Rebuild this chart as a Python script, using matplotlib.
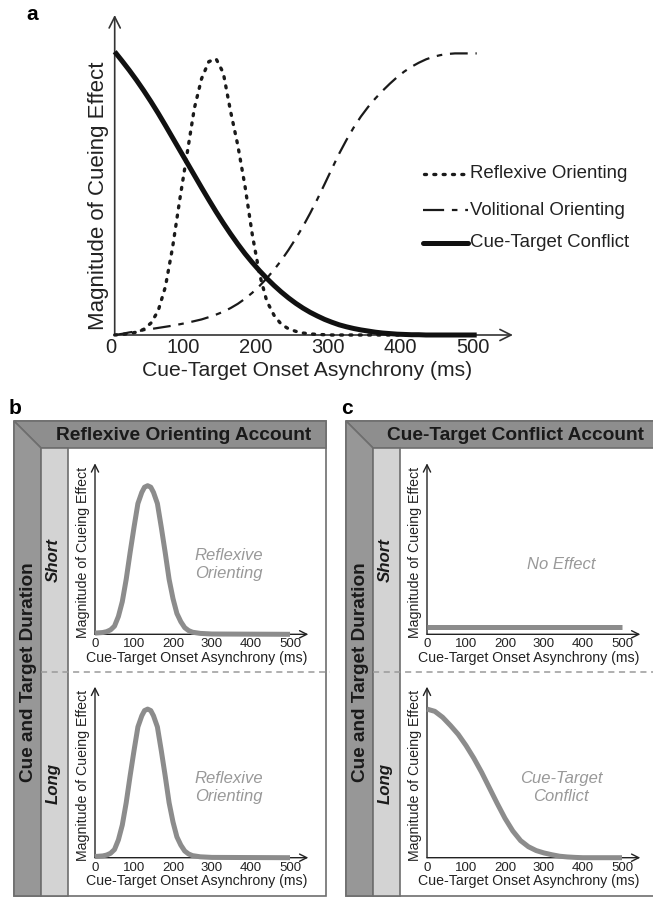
import matplotlib
matplotlib.use('Agg')
import matplotlib.pyplot as plt
from matplotlib.patches import Polygon, Rectangle
from matplotlib.transforms import ScaledTranslation

plt.rcParams['font.family'] = ['Liberation Sans', 'DejaVu Sans']

# ---- data ----
soa_ticks = [0, 100, 200, 300, 400, 500]

# panel a, sampled every 10 ms
t_a = [0, 10, 20, 30, 40, 50, 60, 70, 80, 90, 100, 110, 120, 130, 140, 150, 160, 170, 180, 190,
       200, 210, 220, 230, 240, 250, 260, 270, 280, 290, 300, 310, 320, 330, 340, 350, 360, 370,
       380, 390, 400, 410, 420, 430, 440, 450, 460, 470, 480, 490, 500]
reflexive_a = [0.0, 0.002, 0.005, 0.01, 0.02, 0.042, 0.085, 0.17, 0.31, 0.48, 0.64, 0.80, 0.905, 0.965,
               0.975, 0.925, 0.79, 0.67, 0.525, 0.355, 0.215, 0.12, 0.07, 0.038, 0.022, 0.013, 0.007,
               0.004, 0.002, 0.001, 0.0, 0.0, 0.0, 0.0, 0.0, 0.0, 0.0, 0.0, 0.0, 0.0, 0.0, 0.0, 0.0,
               0.0, 0.0, 0.0, 0.0, 0.0, 0.0, 0.0, 0.0]
volitional_a = [0.0, 0.004, 0.009, 0.013, 0.017, 0.021, 0.025, 0.029, 0.033, 0.038, 0.043, 0.049, 0.055,
                0.063, 0.072, 0.082, 0.095, 0.11, 0.128, 0.149, 0.173, 0.2, 0.23, 0.263, 0.3, 0.34,
                0.383, 0.43, 0.48, 0.533, 0.587, 0.64, 0.688, 0.732, 0.771, 0.805, 0.835, 0.862, 0.887,
                0.91, 0.93, 0.947, 0.961, 0.973, 0.982, 0.988, 0.992, 0.994, 0.994, 0.994, 0.994]
conflict_a = [1.0, 0.968, 0.935, 0.9, 0.863, 0.824, 0.783, 0.74, 0.696, 0.652, 0.608, 0.564, 0.52,
              0.477, 0.435, 0.395, 0.357, 0.321, 0.287, 0.256, 0.227, 0.2, 0.175, 0.152, 0.131, 0.112,
              0.095, 0.08, 0.067, 0.055, 0.045, 0.036, 0.029, 0.023, 0.018, 0.014, 0.01, 0.007, 0.005,
              0.003, 0.002, 0.001, 0.001, 0.0, 0.0, 0.0, 0.0, 0.0, 0.0, 0.0, 0.0]

# panels b / c
t_b = [0, 20, 30, 40, 50, 60, 70, 80, 90, 100, 110, 120, 127, 135, 143, 150, 160, 170, 180, 190,
       200, 210, 220, 230, 240, 250, 270, 300, 500]
reflexive_b = [0.008, 0.012, 0.018, 0.03, 0.055, 0.12, 0.22, 0.37, 0.55, 0.72, 0.88, 0.955, 0.99, 1.0,
               0.99, 0.955, 0.88, 0.72, 0.55, 0.37, 0.24, 0.14, 0.085, 0.045, 0.025, 0.014, 0.006,
               0.002, 0.0]
t_flat = [0, 500]
no_effect = [0.047, 0.047]
t_c = [0, 20, 40, 60, 80, 100, 120, 140, 160, 180, 200, 220, 240, 260, 280, 300, 320, 340, 360,
       380, 400, 500]
conflict_c = [1.0, 0.985, 0.945, 0.89, 0.83, 0.755, 0.67, 0.575, 0.47, 0.365, 0.265, 0.18, 0.115,
              0.074, 0.048, 0.032, 0.02, 0.01, 0.005, 0.002, 0.0, 0.0]

legend_names = ['Reflexive Orienting', 'Volitional Orienting', 'Cue-Target Conflict']

W, H = 653, 898
fig = plt.figure(figsize=(W / 100, H / 100), dpi=100)

DOTS = (0, (0.6, 2.2))
DASHDOT = (0, (8, 3.5, 2.5, 3.5))


def box(x0, y0, x1, y1):
    # pixel box (origin top-left) -> figure fraction rect
    return [x0 / W, 1 - y1 / H, (x1 - x0) / W, (y1 - y0) / H]


def ftext(x, y, s, **kw):
    kw.setdefault('ha', 'center')
    kw.setdefault('va', 'center')
    fig.text(x / W, 1 - y / H, s, **kw)


bg = fig.add_axes([0, 0, 1, 1], zorder=0)
bg.set_xlim(0, W)
bg.set_ylim(H, 0)
bg.axis('off')

# ---------------- panel a ----------------
ax = fig.add_axes(box(114.7, 15, 512.9, 335), zorder=2)
ax.set_xlim(0, 550)
ax.set_ylim(0, 320 / 283.3)
ax.patch.set_alpha(0)
for s in ax.spines.values():
    s.set_visible(False)
arr = dict(arrowstyle='->', color='#333333', lw=1.2, mutation_scale=20, shrinkA=0, shrinkB=0)
ax.annotate('', xy=(550, 0), xytext=(0, 0), arrowprops=arr, annotation_clip=False)
ax.annotate('', xy=(0, 320 / 283.3), xytext=(0, 0), arrowprops=arr, annotation_clip=False)

ax.plot(t_a, reflexive_a, color='#1a1a1a', lw=2.4, linestyle=DOTS,
        dash_capstyle='round', clip_on=False, zorder=3)
ax.plot(t_a, volitional_a, color='#1a1a1a', lw=1.6, linestyle=DASHDOT, clip_on=False, zorder=3)
ax.plot(t_a, conflict_a, color='#111111', lw=3.6, solid_capstyle='butt', clip_on=False, zorder=4)

ax.set_xticks(soa_ticks)
ax.set_xticklabels([str(v) for v in soa_ticks])
ax.set_yticks([])
ax.tick_params(axis='x', length=0, pad=2, labelsize=14.5, labelcolor='#222222')
for lab in ax.get_xticklabels():
    lab.set_transform(lab.get_transform() + ScaledTranslation(-4 / 100, 0, fig.dpi_scale_trans))

ftext(306.7, 370, 'Cue-Target Onset Asynchrony (ms)', fontsize=15.2, color='#222222')
ftext(98.3, 196, 'Magnitude of Cueing Effect', fontsize=16, rotation=90, color='#222222')
ftext(31.7, 15, 'a', fontsize=15, fontweight='bold')

# legend of panel a
leg_y = [174, 210, 242.7]
bg.plot([424, 468], [leg_y[0]] * 2, color='#1a1a1a', lw=2.4, linestyle=DOTS,
        dash_capstyle='round')
bg.plot([423, 468], [leg_y[1]] * 2, color='#1a1a1a', lw=1.6, linestyle=(0, (9.5, 3.5, 2.5, 3.5)))
bg.plot([423, 468], [leg_y[2]] * 2, color='#111111', lw=3.6, solid_capstyle='round')
for y, name in zip(leg_y, legend_names):
    ftext(470, y, name, fontsize=13.4, ha='left', color='#222222')

# ---------------- panels b and c ----------------
edge = '#6e6e6e'


def draw_frame(ox, title, letter):
    L, T, R, B = 14 + ox, 421, 326 + ox, 896
    hb, c1, c2 = 448, 41 + ox, 68 + ox
    bg.add_patch(Rectangle((L, T), R - L, B - T, facecolor='white', edgecolor=edge, lw=1.2))
    bg.add_patch(Polygon([(L, T), (R, T), (R, hb), (c1, hb)], closed=True,
                         facecolor='#8e8e8e', edgecolor=edge, lw=1.2))
    bg.add_patch(Polygon([(L, T), (c1, hb), (c1, B), (L, B)], closed=True,
                         facecolor='#979797', edgecolor=edge, lw=1.2))
    bg.add_patch(Rectangle((c1, hb), c2 - c1, B - hb, facecolor='#d3d3d3', edgecolor=edge, lw=1.2))
    bg.plot([c1, R + 4], [672.3, 672.3], color='#9a9a9a', lw=1.1, linestyle=(0, (4, 3)))
    ftext((c1 + R) / 2, 435, title, fontsize=13.8, fontweight='bold', color='#1a1a1a')
    ftext(L + 14.3, 672.5, 'Cue and Target Duration', fontsize=13.7, fontweight='bold',
          rotation=90, color='#1a1a1a')
    ftext(c1 + 12.5, 560, 'Short', fontsize=12.2, fontweight='bold', style='italic',
          rotation=90, color='#1a1a1a')
    ftext(c1 + 12.5, 783.3, 'Long', fontsize=12.2, fontweight='bold', style='italic',
          rotation=90, color='#1a1a1a')
    ftext(L + 1, 408.5, letter, fontsize=15, fontweight='bold')


def draw_inner(ox, y_axis, t, v, note):
    x0 = 95 + ox
    top = y_axis - 171
    a = fig.add_axes(box(x0, top, x0 + 547 * 0.39, y_axis), zorder=2)
    a.set_xlim(0, 547)
    a.set_ylim(0, 171 / 148.6)
    a.patch.set_alpha(0)
    for s in a.spines.values():
        s.set_visible(False)
    ar = dict(arrowstyle='->', color='#222222', lw=1.0, mutation_scale=13, shrinkA=0, shrinkB=0)
    a.annotate('', xy=(547, 0), xytext=(0, 0), arrowprops=ar, annotation_clip=False)
    a.annotate('', xy=(0, 171 / 148.6), xytext=(0, 0), arrowprops=ar, annotation_clip=False)
    a.plot(t, v, color='#8c8c8c', lw=3.6, solid_capstyle='butt', clip_on=False, zorder=3)
    a.set_xticks(soa_ticks)
    a.set_xticklabels([str(k) for k in soa_ticks])
    a.set_yticks([])
    a.tick_params(axis='x', length=0, pad=3, labelsize=9.5, labelcolor='#222222')
    ftext(x0 + 101.7, y_axis + 23.4, 'Cue-Target Onset Asynchrony (ms)', fontsize=10.2,
          color='#222222')
    ftext(x0 - 12.3, y_axis - 81.8, 'Magnitude of Cueing Effect', fontsize=10.2, rotation=90,
          color='#222222')
    ftext(x0 + 134, y_axis - 70, note, fontsize=12, style='italic', color='#999999',
          linespacing=1.25)


draw_frame(0, 'Reflexive Orienting Account', 'b')
draw_frame(332, 'Cue-Target Conflict Account', 'c')

draw_inner(0, 634.3, t_b, reflexive_b, 'Reflexive\nOrienting')
draw_inner(0, 857.7, t_b, reflexive_b, 'Reflexive\nOrienting')
draw_inner(332, 634.3, t_flat, no_effect, 'No Effect')
draw_inner(332, 857.7, t_c, conflict_c, 'Cue-Target\nConflict')

fig.savefig('out.png', dpi=100)
